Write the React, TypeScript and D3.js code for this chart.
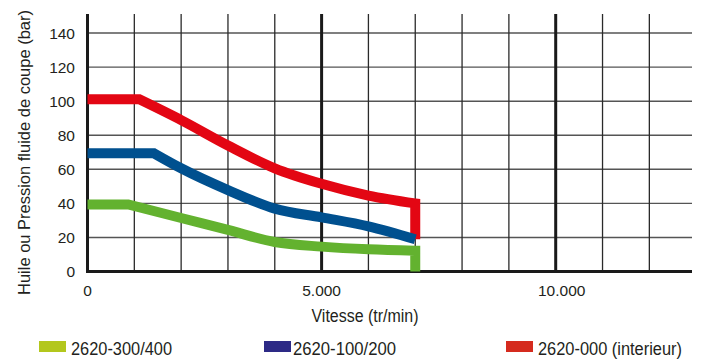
import React from "react";
import * as d3 from "d3";

const W = 701;
const H = 359;

// Data (speed tr/min, pressure bar)
const greenFlat: [number, number][] = [[0, 39.4], [870, 39.4]];
const greenCurve: [number, number][] = [
  [870, 39.4], [2000, 31.4], [3000, 24.4], [4000, 17.3],
  [5000, 14.6], [6000, 13], [7000, 12.2],
];
const greenEnd: [number, number][] = [[7000, 12.2], [7000, 0]];

const blueFlat: [number, number][] = [[0, 69.4], [1420, 69.4]];
const blueCurve: [number, number][] = [
  [1420, 69.4], [2000, 60.6], [3000, 47.8], [4000, 36.9],
  [5000, 31.8], [6000, 26.5], [7000, 18.9],
];
const blueEnd: [number, number][] = [[7000, 18.9]];

const redFlat: [number, number][] = [[0, 101.1], [1106, 101.1]];
const redCurve: [number, number][] = [
  [1106, 101.1], [2000, 88.9], [3000, 74], [4000, 60.6],
  [5000, 51.5], [6000, 44.6], [7000, 40],
];
const redEnd: [number, number][] = [[7000, 40], [7000, 19]];

const yTicks = [0, 20, 40, 60, 80, 100, 120, 140];
const xGrid = [1000, 2000, 3000, 4000, 6000, 7000, 8000, 9000, 11000, 12000];
const xMajor = [0, 5000, 10000];
const xTickLabels = ["0", "5.000", "10.000"];

const legendNames = ["2620-300/400", "2620-100/200", "2620-000 (interieur)"];
const legendColors = ["#b3c71d", "#2d2a86", "#d52b1e"];
const lineColors = ["#63b22f", "#00508f", "#e30613"];

const FONT = "'Liberation Sans', Arial, Helvetica, sans-serif";
const TXT = "#231f20";

export default function App() {
  const x = d3.scaleLinear().domain([0, 12911]).range([87.5, 692]);
  const y = d3.scaleLinear().domain([0, 151.2]).range([271.5, 14]);
  const lin = d3
    .line<[number, number]>()
    .x((d) => x(d[0]))
    .y((d) => y(d[1]))
    .curve(d3.curveLinear);
  const smooth = d3
    .line<[number, number]>()
    .x((d) => x(d[0]))
    .y((d) => y(d[1]))
    .curve(d3.curveMonotoneX);

  const build = (flat: [number, number][], curve: [number, number][], end: [number, number][]) => {
    const a = lin(flat) || "";
    const b = (smooth(curve) || "").replace(/^M[^CLQ]*/, "");
    const startB = (smooth(curve) || "").match(/^M[^CLQ]*/);
    let d = a + (startB ? "L" + startB[0].slice(1) : "") + b;
    end.slice(1).forEach((p) => {
      d += `L${x(p[0])},${y(p[1])}`;
    });
    return d;
  };

  const series = [
    { d: build(redFlat, redCurve, redEnd), c: lineColors[2] },
    { d: build(blueFlat, blueCurve, blueEnd), c: lineColors[1] },
    { d: build(greenFlat, greenCurve, greenEnd), c: lineColors[0] },
  ];

  const legendRectX = [39, 264, 506];
  const legendTextX = [71, 293, 538];
  const legendTextLen = [101, 103, 144];

  return (
    <svg width={W} height={H} style={{ position: "absolute", left: 0, top: 0 }}>
      <rect width={W} height={H} fill="#fff" />
      {yTicks.slice(1).map((t) => (
        <line key={"h" + t} x1={x(0)} x2={692} y1={y(t)} y2={y(t)} stroke="#555" strokeWidth={1.4} />
      ))}
      {xGrid.map((t) => (
        <line key={"v" + t} x1={x(t)} x2={x(t)} y1={14} y2={y(0)} stroke="#2a2a2a" strokeWidth={1.3} />
      ))}
      {xMajor.map((t) => (
        <line key={"m" + t} x1={x(t)} x2={x(t)} y1={14} y2={y(0) + 1.5} stroke="#1a1a1a" strokeWidth={3} />
      ))}
      <line x1={x(0) - 1.5} x2={692} y1={y(0)} y2={y(0)} stroke="#1a1a1a" strokeWidth={3} />

      {series.map((s, i) => (
        <path
          key={"s" + i}
          d={s.d}
          fill="none"
          stroke={s.c}
          strokeWidth={10}
          strokeLinejoin="miter"
          strokeLinecap="butt"
        />
      ))}

      {yTicks.map((t) => (
        <text key={"yl" + t} x={75} y={y(t) + 5.5} textAnchor="end" fontFamily={FONT} fontSize={15.5} fill={TXT}>
          {t}
        </text>
      ))}
      {xMajor.map((t, i) => (
        <text
          key={"xl" + t}
          x={x(t) + (i === 2 ? 6 : 0)}
          y={296}
          textAnchor="middle"
          fontFamily={FONT}
          fontSize={15.5}
          fill={TXT}
        >
          {xTickLabels[i]}
        </text>
      ))}

      <text
        x={365}
        y={321.5}
        textAnchor="middle"
        fontFamily={FONT}
        fontSize={18}
        fill={TXT}
        textLength={107}
        lengthAdjust="spacingAndGlyphs"
      >
        Vitesse (tr/min)
      </text>
      <text
        transform="translate(30,152.5) rotate(-90)"
        textAnchor="middle"
        fontFamily={FONT}
        fontSize={17}
        fill={TXT}
        textLength={285}
        lengthAdjust="spacingAndGlyphs"
      >
        Huile ou Pression fluide de coupe (bar)
      </text>

      {legendNames.map((n, i) => (
        <g key={"lg" + i}>
          <rect x={legendRectX[i]} y={341} width={27} height={11} fill={legendColors[i]} />
          <text
            x={legendTextX[i]}
            y={354.5}
            fontFamily={FONT}
            fontSize={18}
            fill={TXT}
            textLength={legendTextLen[i]}
            lengthAdjust="spacingAndGlyphs"
          >
            {n}
          </text>
        </g>
      ))}
    </svg>
  );
}
